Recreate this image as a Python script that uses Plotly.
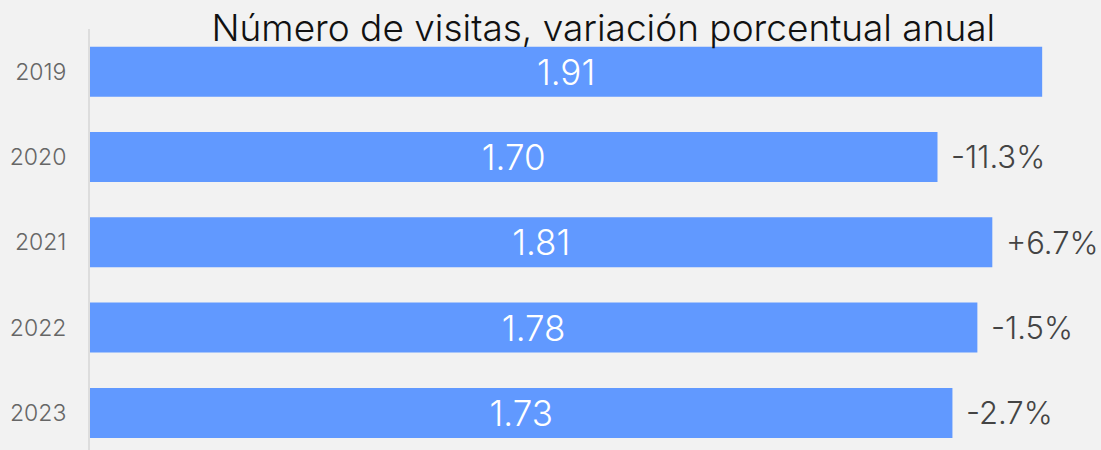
import plotly.graph_objects as go

# Data
years = ["2019", "2020", "2021", "2022", "2023"]
visits = [1.91, 1.70, 1.81, 1.78, 1.73]
changes = ["", "-11.3%", "+6.7%", "-1.5%", "-2.7%"]

bar_color = "#6199ff"
bg_color = "#f2f2f2"

fig = go.Figure()

fig.add_trace(go.Bar(
    x=visits,
    y=years,
    orientation="h",
    marker=dict(color=bar_color, line=dict(width=0)),
    text=[f"{v:.2f}" for v in visits],
    textposition="inside",
    insidetextanchor="middle",
    textfont=dict(family="Inter", size=35, color="white", weight=300),
    hoverinfo="skip",
))

# yearly change labels to the right of each bar
# (category axis -> annotations use the category index)
for i, (v, c) in enumerate(zip(visits, changes)):
    if c:
        fig.add_annotation(
            x=v, y=i, text=c, showarrow=False,
            xanchor="left", yanchor="middle", xshift=12,
            font=dict(family="Inter", size=31, color="#444444", weight=300),
        )

fig.update_layout(
    width=1101, height=450,
    paper_bgcolor=bg_color, plot_bgcolor=bg_color,
    margin=dict(l=90, r=0, t=29, b=0),
    bargap=0.414,
    showlegend=False,
    title=dict(
        text="Número de visitas, variación porcentual anual",
        font=dict(family="Inter", size=37, color="#111111", weight=300),
        x=0.548, xanchor="center", y=0.967, yanchor="top",
    ),
    font=dict(family="Inter"),
)

fig.update_xaxes(range=[0, 2.028], visible=False, showgrid=False, zeroline=False)
fig.update_yaxes(
    type="category",
    range=[4.435, -0.5],
    showgrid=False,
    zeroline=False,
    showline=True, linecolor="#dddddd", linewidth=2,
    ticks="", ticklabelstandoff=17,
    tickfont=dict(family="Inter", size=23, color="#666666", weight=300),
)

# drop the default page margin so the figure fills the window
fig.write_html(
    "out.html",
    config={"displayModeBar": False},
    post_script="document.body.style.margin='0';",
)
